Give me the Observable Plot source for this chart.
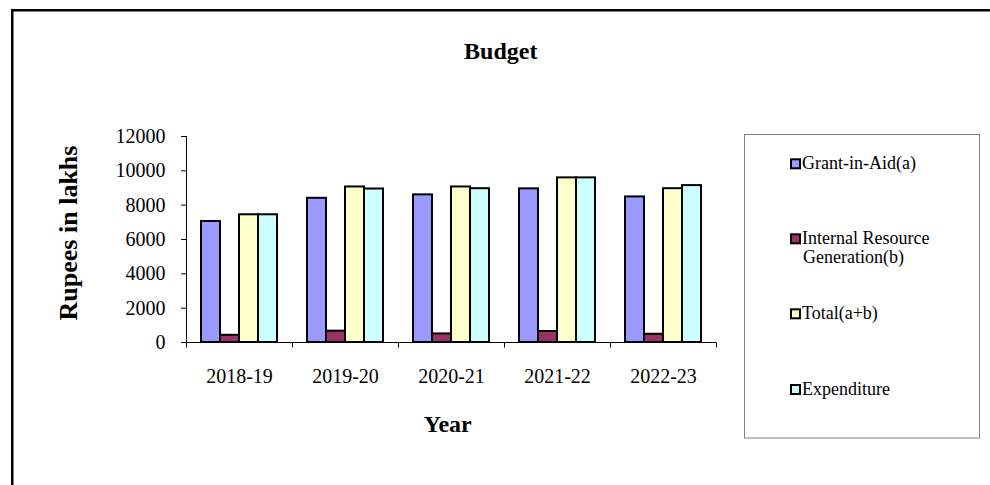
<!DOCTYPE html>
<html><head><meta charset="utf-8">
<script src="https://cdn.jsdelivr.net/npm/d3@7"></script>
<script src="https://cdn.jsdelivr.net/npm/@observablehq/plot@0.6"></script>
<style>
body{margin:0;background:#fff;}
#wrap{position:relative;width:990px;height:485px;overflow:hidden;background:#fff;font-family:"Liberation Serif","Times New Roman",serif;}
#wrap > svg{position:absolute;left:0;top:0;}
</style></head><body><div id="wrap"></div>
<script>
const years = ["2018-19","2019-20","2020-21","2021-22","2022-23"];
const seriesNames = ["Grant-in-Aid(a)","Internal Resource Generation(b)","Total(a+b)","Expenditure"];
const legendLines = [["Grant-in-Aid(a)"],["Internal Resource","Generation(b)"],["Total(a+b)"],["Expenditure"]];
const grantInAid = [7050,8400,8600,8950,8480];
const internalResource = [420,660,500,640,480];
const totalAB = [7440,9060,9060,9590,8960];
const expenditure = [7440,8940,8960,9590,9140];
const yTicks = [0,2000,4000,6000,8000,10000,12000];
const colors = ["#9999FF","#993366","#FFFFCC","#CCFFFF"];
const titleText = "Budget";
const xLabel = "Year";
const yLabel = "Rupees in lakhs";

const seriesValues = [grantInAid, internalResource, totalAB, expenditure];
const data = years.flatMap((year, i) => seriesValues.map((arr, j) => ({year, series: seriesNames[j], value: arr[i]})));
const tickSymbol = {draw(ctx){ ctx.moveTo(0,0); ctx.lineTo(0,5); }};

const chart = Plot.plot({
  width: 990, height: 485,
  marginLeft: 185, marginRight: 274, marginTop: 136, marginBottom: 143,
  style: {fontFamily: '"Liberation Serif","Times New Roman",serif', fontSize: "20px", color: "black", background: "transparent", overflow: "visible"},
  fx: {domain: years, padding: 0, label: null, tickSize: 0, tickPadding: 26},
  x: {domain: seriesNames, paddingInner: 0, paddingOuter: 0.75, axis: null},
  y: {domain: [0, 12000], ticks: yTicks, tickSize: 5, tickPadding: 16, tickFormat: d => String(d), label: null, line: true},
  color: {domain: seriesNames, range: colors},
  marks: [
    Plot.barY(data, {fx: "year", x: "series", y: "value", fill: "series", stroke: "black", strokeWidth: 2}),
    Plot.ruleY([0], {stroke: "black", strokeWidth: 1}),
    Plot.dot(years, {fx: d => d, frameAnchor: "bottom-left", symbol: tickSymbol, fill: "none", stroke: "black", strokeWidth: 1}),
    Plot.dot(years.slice(-1), {fx: d => d, frameAnchor: "bottom-right", symbol: tickSymbol, fill: "none", stroke: "black", strokeWidth: 1})
  ]
});
document.getElementById("wrap").appendChild(chart);

const ov = d3.select("#wrap").append("svg")
  .attr("width", 990).attr("height", 485)
  .style("font-family", '"Liberation Serif","Times New Roman",serif')
  .style("pointer-events", "none");

ov.append("rect").attr("x", 12.25).attr("y", 10.25).attr("width", 1100).attr("height", 1100)
  .attr("fill", "none").attr("stroke", "black").attr("stroke-width", 2.5);

ov.append("text").attr("x", 500.8).attr("y", 59.3).attr("text-anchor", "middle")
  .attr("font-size", 24).attr("font-weight", "bold").text(titleText);

ov.append("text").attr("transform", "translate(77,233) rotate(-90)").attr("text-anchor", "middle")
  .attr("font-size", 26).attr("font-weight", "bold").text(yLabel);

ov.append("text").attr("x", 447.7).attr("y", 431.7).attr("text-anchor", "middle")
  .attr("font-size", 24).attr("font-weight", "bold").text(xLabel);

ov.append("rect").attr("x", 744.5).attr("y", 134.5).attr("width", 235).attr("height", 303.5)
  .attr("fill", "white").attr("stroke", "#808080").attr("stroke-width", 1);

const baselines = [169.3, 244.3, 319.3, 395];
legendLines.forEach((lines, i) => {
  const b = baselines[i];
  ov.append("rect").attr("x", 791).attr("y", b - 10).attr("width", 9).attr("height", 9)
    .attr("fill", colors[i]).attr("stroke", "black").attr("stroke-width", 2);
  const t = ov.append("text").attr("x", 802).attr("y", b).attr("font-size", 18).attr("fill", "black");
  lines.forEach((ln, k) => {
    t.append("tspan").attr("x", k === 0 ? 802 : 803).attr("dy", k === 0 ? 0 : 18.4).text(ln);
  });
});
</script></body></html>
